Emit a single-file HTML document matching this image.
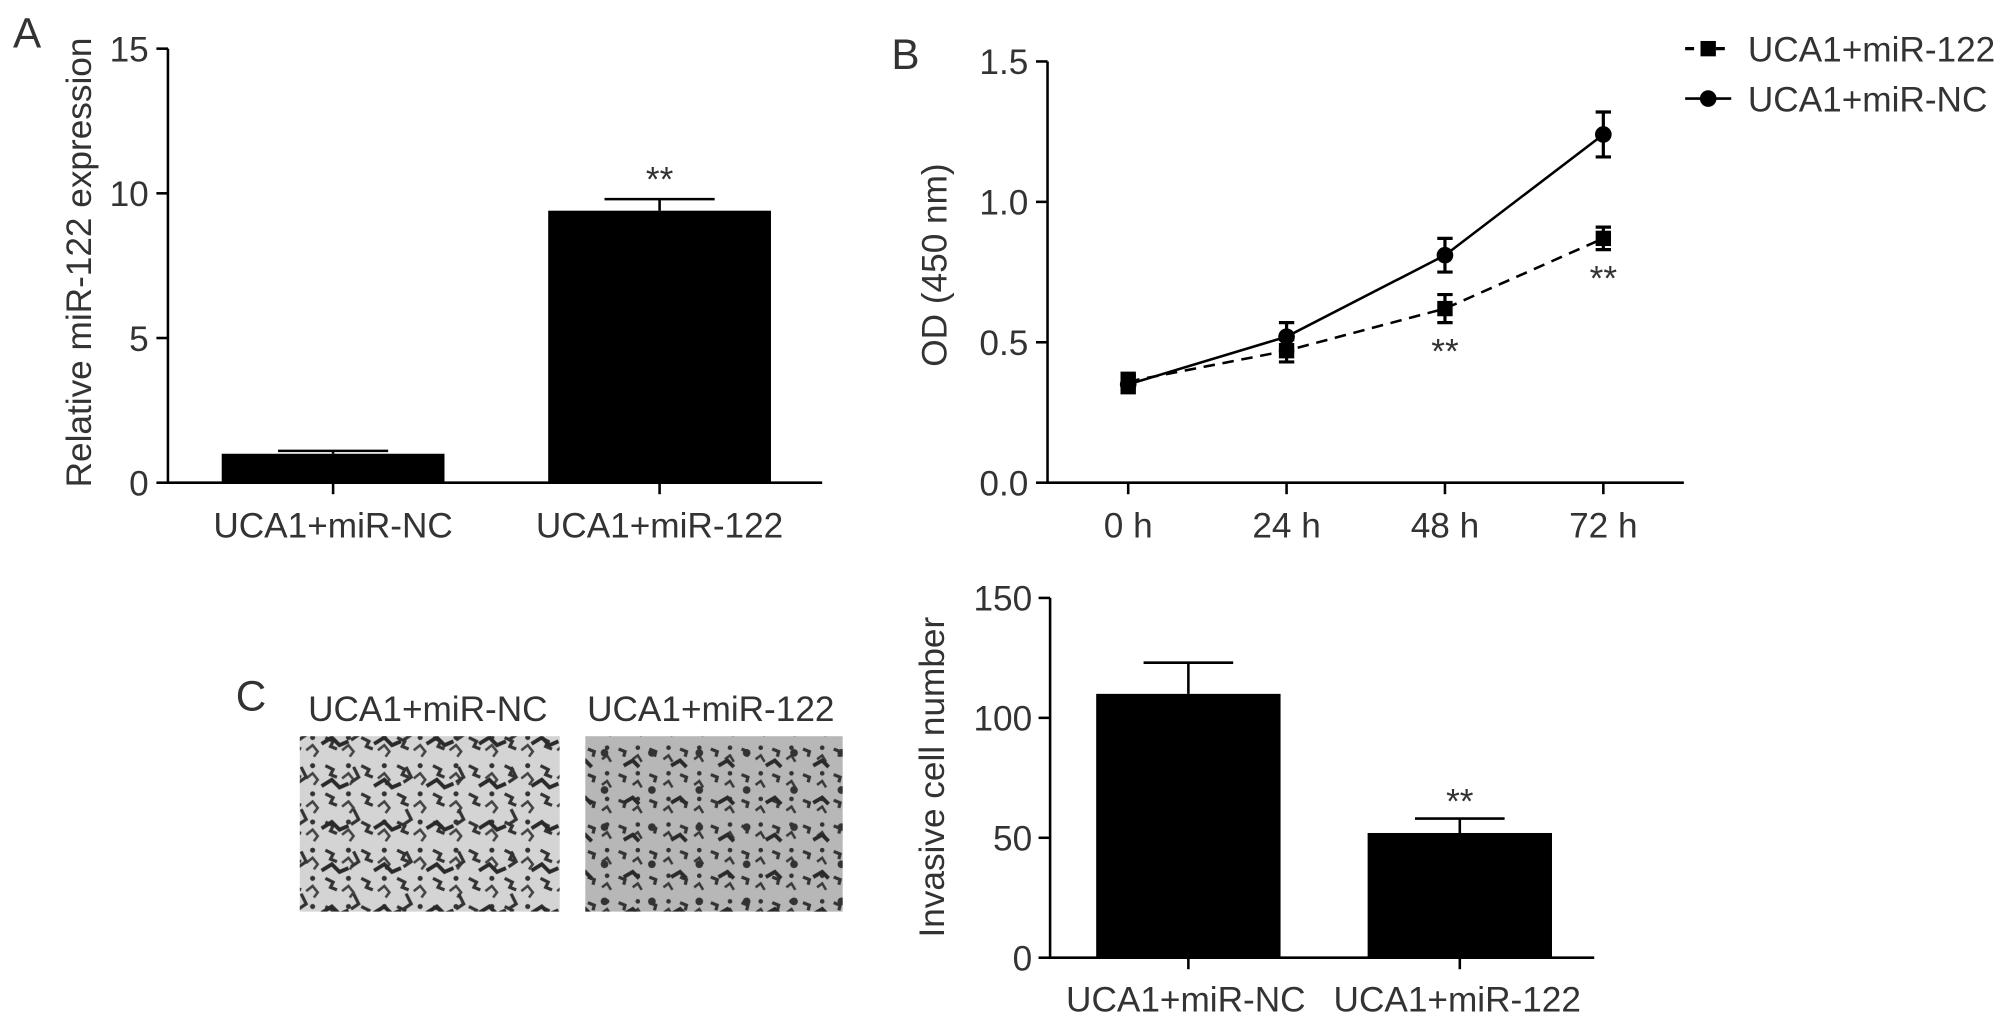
<!DOCTYPE html>
<html><head><meta charset="utf-8"><style>
html,body{margin:0;padding:0;background:#fff;}
svg{display:block;font-family:"Liberation Sans",sans-serif;}
text{fill:#333;}
</style></head><body>
<svg id="fig" width="2008" height="1023" viewBox="0 0 1568 799" xmlns="http://www.w3.org/2000/svg">
<defs>
<pattern id="cellsL" width="28" height="22" patternUnits="userSpaceOnUse">
<rect width="28" height="22" fill="#d4d4d4"/>
<path d="M2 4 l6 3 l-2 4 l5 2" stroke="#333" stroke-width="2.5" fill="none"/>
<path d="M15 14 l5 -4 l4 5 l-3 4" stroke="#444" stroke-width="2" fill="none"/>
<circle cx="20" cy="4" r="2" fill="#333"/>
</pattern>
<pattern id="cellsL2" width="41" height="33" patternUnits="userSpaceOnUse">
<path d="M5 20 l8 -5 l6 6 l7 -3" stroke="#2a2a2a" stroke-width="3" fill="none"/>
<path d="M30 5 l4 8 l-6 4" stroke="#333" stroke-width="2.5" fill="none"/>
</pattern>
<pattern id="cellsR" width="24" height="20" patternUnits="userSpaceOnUse">
<rect width="24" height="20" fill="#b7b7b7"/>
<path d="M3 5 l5 2 l-1 4" stroke="#333" stroke-width="2.5" fill="none"/>
<path d="M14 13 l4 -3 l3 5" stroke="#3a3a3a" stroke-width="2" fill="none"/>
<circle cx="18" cy="4" r="1.8" fill="#333"/>
</pattern>
<pattern id="cellsR2" width="37" height="29" patternUnits="userSpaceOnUse">
<path d="M6 18 l7 -4 l5 5" stroke="#2a2a2a" stroke-width="3" fill="none"/>
<circle cx="28" cy="8" r="3" fill="#333"/>
</pattern>
</defs>
<g id="A"></g><g id="B"></g><g id="C"></g>
</svg>
<script>
const NS="http://www.w3.org/2000/svg";
const FS=27.5;
// Panel A data
const aCats=["UCA1+miR-NC","UCA1+miR-122"];
const aVals=[1.0,9.4];
const aErr=[0.1,0.4];
const aTicks=[0,5,10,15];
// Panel B data
const bCats=["0 h","24 h","48 h","72 h"];
const bNC=[0.35,0.52,0.81,1.24];
const bNCerr=[0.03,0.05,0.06,0.08];
const b122=[0.36,0.47,0.62,0.87];
const b122err=[0.03,0.04,0.05,0.04];
const bTicks=[0.0,0.5,1.0,1.5];
// Panel C data
const cCats=["UCA1+miR-NC","UCA1+miR-122"];
const cVals=[110,52];
const cErr=[13,6];
const cTicks=[0,50,100,150];

function el(p,tag,attrs,txt){const e=document.createElementNS(NS,tag);for(const k in attrs)e.setAttribute(k,attrs[k]);if(txt!==undefined)e.textContent=txt;p.appendChild(e);return e;}
const A=document.getElementById('A'),B=document.getElementById('B'),C=document.getElementById('C');
const S={stroke:"#000","stroke-width":2};

// ---- Panel A
let t=el(A,'text',{x:10,y:37,"font-size":33},"A");

const ayA=v=>377-v*(339/15);
let ax=el(A,'path',Object.assign({d:"M131 38 V377 H642",fill:"none"},S));

aTicks.forEach(v=>{el(A,'line',Object.assign({x1:122,x2:131,y1:ayA(v),y2:ayA(v)},S));
 const tl=el(A,'text',{x:116,y:ayA(v)+10,"font-size":FS,"text-anchor":"end"},v);
 });
const aX=[260,515];
aCats.forEach((c,i)=>{const x=aX[i];
 el(A,'line',Object.assign({x1:x,x2:x,y1:377,y2:386},S));
 const r=el(A,'rect',{x:x-87,y:ayA(aVals[i]),width:174,height:377-ayA(aVals[i]),fill:"#000"});
 
 const ye=ayA(aVals[i]+aErr[i]);
 el(A,'path',Object.assign({d:`M${x} ${ayA(aVals[i])} V${ye} M${x-43} ${ye} H${x+43}`,fill:"none"},S));
 const l=el(A,'text',{x:x,y:420,"font-size":FS,"text-anchor":"middle"},c);
 });
t=el(A,'text',{x:aX[1],y:ayA(aVals[1]+aErr[1])-6,"font-size":FS,"text-anchor":"middle"},"**");

t=el(A,'text',{x:0,y:0,"font-size":FS,"text-anchor":"middle",transform:"translate(71 205) rotate(-90)"},"Relative miR-122 expression");


// ---- Panel B
t=el(B,'text',{x:696,y:54,"font-size":33},"B");

const byB=v=>377-v*(329/1.5);
const bX=i=>881+i*123.7;
ax=el(B,'path',Object.assign({d:"M818 48 V377 H1315",fill:"none"},S));

bTicks.forEach(v=>{el(B,'line',Object.assign({x1:809,x2:818,y1:byB(v),y2:byB(v)},S));
 const tl=el(B,'text',{x:803,y:byB(v)+10,"font-size":FS,"text-anchor":"end"},v.toFixed(1));
 });
bCats.forEach((c,i)=>{el(B,'line',Object.assign({x1:bX(i),x2:bX(i),y1:377,y2:386},S));
 const l=el(B,'text',{x:bX(i),y:420,"font-size":FS,"text-anchor":"middle"},c);
 });
function series(vals,errs,dash,marker,name){
 const p=el(B,'polyline',{points:vals.map((v,i)=>bX(i)+","+byB(v)).join(" "),fill:"none",stroke:"#000","stroke-width":2,"stroke-dasharray":dash});
 
 vals.forEach((v,i)=>{const x=bX(i),y1=byB(v+errs[i]),y2=byB(v-errs[i]);
  el(B,'path',{d:`M${x} ${y1} V${y2} M${x-6} ${y1} H${x+6} M${x-6} ${y2} H${x+6}`,stroke:"#000","stroke-width":2.5,fill:"none"});
  let m= marker==="sq"?el(B,'rect',{x:x-6,y:byB(v)-6,width:12,height:12,fill:"#000"}):el(B,'circle',{cx:x,cy:byB(v),r:6.5,fill:"#000"});
  });
}
series(bNC,bNCerr,"none","c","nc-series");
series(b122,b122err,"9,6","sq","mir122-series");
[2,3].forEach(i=>{const s=el(B,'text',{x:bX(i),y:byB(b122[i]-b122err[i])+32,"font-size":FS,"text-anchor":"middle"},"**");
 });
t=el(B,'text',{x:0,y:0,"font-size":FS,"text-anchor":"middle",transform:"translate(739 207) rotate(-90)"},"OD (450 nm)");

let lg=el(B,'g',{});
el(lg,'line',{x1:1316,x2:1352,y1:38,y2:38,stroke:"#000","stroke-width":2.5,"stroke-dasharray":"7,5"});
el(lg,'rect',{x:1328,y:32,width:12,height:12,fill:"#000"});
t=el(lg,'text',{x:1365,y:48,"font-size":FS},"UCA1+miR-122");
el(lg,'line',{x1:1316,x2:1352,y1:77,y2:77,stroke:"#000","stroke-width":2});
el(lg,'circle',{cx:1334,cy:77,r:6.5,fill:"#000"});
t=el(lg,'text',{x:1365,y:87,"font-size":FS},"UCA1+miR-NC");

// ---- Panel C
t=el(C,'text',{x:184,y:555,"font-size":33},"C");

t=el(C,'text',{x:334,y:563,"font-size":FS,"text-anchor":"middle"},"UCA1+miR-NC");
t=el(C,'text',{x:555,y:563,"font-size":FS,"text-anchor":"middle"},"UCA1+miR-122");
let im=el(C,'g',{});
el(im,'rect',{x:234,y:575,width:203,height:137,fill:"url(#cellsL)"});
el(im,'rect',{x:234,y:575,width:203,height:137,fill:"url(#cellsL2)"});
im=el(C,'g',{});
el(im,'rect',{x:457,y:575,width:201,height:137,fill:"url(#cellsR)"});
el(im,'rect',{x:457,y:575,width:201,height:137,fill:"url(#cellsR2)"});
const cyC=v=>748-v*(281/150);
ax=el(C,'path',Object.assign({d:"M820 467 V748 H1245",fill:"none"},S));

cTicks.forEach(v=>{el(C,'line',Object.assign({x1:811,x2:820,y1:cyC(v),y2:cyC(v)},S));
 const tl=el(C,'text',{x:806,y:cyC(v)+10,"font-size":FS,"text-anchor":"end"},v);
 });
const cX=[928,1140];
cCats.forEach((c,i)=>{const x=cX[i];
 el(C,'line',Object.assign({x1:x,x2:x,y1:748,y2:757},S));
 const r=el(C,'rect',{x:x-72,y:cyC(cVals[i]),width:144,height:748-cyC(cVals[i]),fill:"#000"});
 
 const ye=cyC(cVals[i]+cErr[i]);
 el(C,'path',Object.assign({d:`M${x} ${cyC(cVals[i])} V${ye} M${x-35} ${ye} H${x+35}`,fill:"none"},S));
 const l=el(C,'text',{x:x-2,y:790,"font-size":FS,"text-anchor":"middle"},c);
 });
t=el(C,'text',{x:cX[1],y:cyC(cVals[1]+cErr[1])-4,"font-size":FS,"text-anchor":"middle"},"**");

t=el(C,'text',{x:0,y:0,"font-size":FS,"text-anchor":"middle",transform:"translate(737 607) rotate(-90)"},"Invasive cell number");

</script>
</body></html>
